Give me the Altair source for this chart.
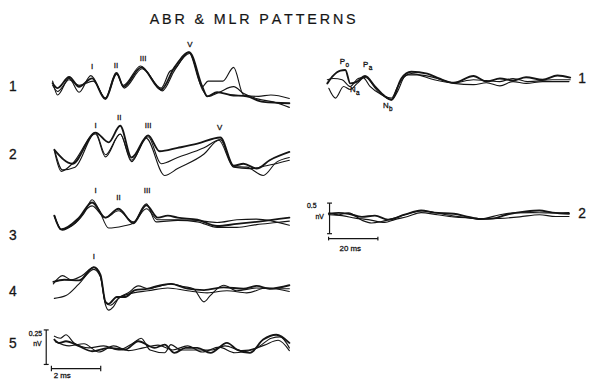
import altair as alt
import pandas as pd

TITLE = "A\u2009B\u2009R\u2009 \u2009&\u2009 \u2009M\u2009L\u2009R\u2009 \u2009P\u2009A\u2009T\u2009T\u2009E\u2009R\u2009N\u2009S"

# ---------------- ABR traces: time (ms) and amplitude (uV) ----------------
abr1_a_t = [0.05, 0.25, 0.72, 1.12, 1.65, 2.19, 2.65, 2.92, 3.65, 4.45, 4.99, 5.59, 6.12, 6.32, 6.72, 7.25, 7.92, 8.59, 9.65]
abr1_a_v = [0.045, 0.01, 0.09, 0.02, 0.08, -0.07, 0.12, 0.02, 0.16, 0.0, 0.16, 0.27, 0.02, -0.05, -0.02, -0.04, -0.05, -0.09, -0.10]
abr1_b_t = [0.05, 0.25, 0.72, 1.12, 1.6, 2.19, 2.62, 2.92, 3.62, 4.45, 4.8, 5.0, 5.57, 6.12, 6.35, 6.95, 7.39, 7.79, 8.4, 8.9, 9.65]
abr1_b_v = [0.06, -0.04, 0.08, -0.02, 0.10, -0.06, 0.12, 0.03, 0.17, 0.01, 0.13, 0.15, 0.27, 0.02, 0.06, 0.06, 0.16, -0.04, -0.05, -0.04, -0.065]
abr1_c_t = [0.05, 0.25, 0.72, 1.12, 1.7, 2.19, 2.65, 2.95, 3.68, 4.5, 5.0, 5.6, 6.12, 6.35, 6.8, 7.39, 7.8, 8.4, 9.0, 9.65]
abr1_c_v = [0.03, -0.015, 0.07, 0.03, 0.06, -0.065, 0.11, 0.01, 0.15, -0.01, 0.14, 0.26, 0.0, -0.05, -0.02, 0.02, -0.03, -0.07, -0.09, -0.13]

abr2_a_t = [0.12, 0.85, 1.79, 2.32, 2.79, 3.25, 3.92, 4.39, 5.12, 5.92, 6.85, 7.39, 7.79, 8.32, 8.85, 9.65]
abr2_a_v = [0.005, -0.095, 0.13, 0.06, 0.18, -0.05, 0.11, -0.005, 0.02, 0.05, 0.095, -0.11, -0.095, -0.13, -0.07, -0.01]
abr2_b_t = [0.12, 0.45, 0.96, 1.79, 2.19, 2.79, 3.25, 3.92, 4.45, 5.12, 6.19, 6.85, 7.39, 7.92, 8.59, 9.12, 9.65]
abr2_b_v = [0.01, -0.14, -0.12, 0.13, -0.03, 0.12, -0.07, 0.10, -0.095, -0.05, 0.02, 0.08, -0.115, -0.12, -0.18, -0.085, -0.05]
abr2_c_t = [0.12, 0.4, 0.85, 1.79, 2.19, 2.79, 3.25, 3.84, 4.59, 5.12, 6.19, 6.79, 7.39, 8.04, 8.72, 9.65]
abr2_c_v = [0.0, -0.15, -0.095, 0.12, -0.045, 0.12, -0.08, 0.09, -0.18, -0.13, -0.025, 0.075, -0.12, -0.13, -0.11, -0.07]

abr3_a_t = [0.12, 0.39, 1.12, 1.65, 2.19, 2.72, 3.32, 3.85, 4.32, 4.72, 5.12, 5.92, 6.72, 7.52, 8.32, 9.65]
abr3_a_v = [0.015, -0.085, 0.0, 0.11, 0.0, 0.065, -0.04, 0.09, 0.0, 0.015, 0.0, -0.015, -0.06, -0.045, -0.03, 0.0]
abr3_b_t = [0.12, 0.4, 1.32, 1.65, 1.92, 2.32, 2.92, 3.32, 3.85, 4.24, 5.12, 5.92, 6.72, 7.52, 8.32, 9.12, 9.65]
abr3_b_v = [0.015, -0.085, 0.03, 0.13, 0.06, -0.075, -0.06, -0.04, 0.10, -0.03, -0.02, -0.03, -0.07, -0.07, -0.05, -0.035, -0.025]
abr3_c_t = [0.12, 0.44, 0.92, 1.65, 2.19, 2.72, 3.32, 3.85, 4.32, 5.12, 5.92, 6.72, 7.52, 8.32, 9.65]
abr3_c_v = [0.01, -0.09, -0.045, 0.085, 0.0, 0.05, -0.03, 0.065, -0.015, -0.015, -0.02, -0.035, -0.015, -0.01, -0.055]

abr4_a_t = [0.08, 0.52, 1.12, 1.72, 1.99, 2.19, 2.32, 2.65, 2.99, 3.39, 3.92, 4.32, 4.85, 5.52, 6.19, 6.99, 7.79, 8.32, 8.85, 9.65]
abr4_a_v = [0.05, 0.065, 0.06, 0.155, 0.10, -0.095, -0.11, -0.06, -0.06, -0.01, 0.0, 0.02, 0.035, 0.0, -0.01, 0.01, 0.0, 0.02, 0.0, 0.025]
abr4_b_t = [0.08, 0.45, 0.8, 1.25, 1.72, 1.99, 2.19, 2.32, 2.52, 2.72, 3.12, 3.52, 3.92, 4.32, 4.85, 5.36, 5.76, 6.19, 6.44, 6.99, 7.52, 8.32, 9.12, 9.65]
abr4_b_v = [0.035, 0.095, 0.065, 0.095, 0.155, 0.09, -0.115, -0.155, -0.13, -0.07, -0.03, 0.02, 0.0, 0.015, 0.035, 0.015, 0.0, -0.095, -0.05, 0.025, -0.015, 0.005, 0.0, 0.0]
abr4_c_t = [0.12, 0.59, 1.12, 1.72, 1.99, 2.19, 2.4, 2.72, 3.32, 3.92, 4.72, 5.52, 6.32, 7.12, 7.92, 8.72, 9.65]
abr4_c_v = [-0.07, -0.05, 0.035, 0.14, 0.085, -0.1, -0.12, -0.07, -0.03, -0.015, 0.005, -0.015, -0.03, -0.015, -0.03, 0.005, -0.02]

abr5_a_t = [0.12, 0.32, 0.59, 1.12, 1.65, 2.32, 2.99, 3.52, 4.19, 4.59, 4.99, 5.44, 5.92, 6.45, 7.12, 7.52, 8.05, 8.59, 9.12, 9.65]
abr5_a_v = [0.06, 0.035, 0.048, 0.012, -0.024, 0.0, -0.012, 0.048, 0.0, 0.024, -0.036, 0.0, 0.0, -0.036, 0.036, -0.012, -0.036, 0.06, 0.095, 0.036]
abr5_b_t = [0.12, 0.36, 0.59, 0.92, 1.52, 2.12, 2.72, 3.32, 3.64, 4.0, 4.59, 4.85, 5.24, 5.92, 6.52, 7.04, 7.72, 8.32, 8.92, 9.28, 9.65]
abr5_b_v = [0.085, 0.07, 0.095, 0.035, 0.0, 0.015, -0.015, 0.035, 0.07, -0.015, -0.035, 0.024, -0.015, -0.015, -0.015, 0.015, -0.02, 0.0, 0.07, 0.08, 0.0]
abr5_c_t = [0.16, 0.72, 1.32, 1.92, 2.52, 3.12, 3.72, 4.32, 4.92, 5.52, 6.12, 6.8, 7.44, 8.12, 8.64, 9.2, 9.65]
abr5_c_v = [0.045, 0.015, 0.03, -0.03, 0.015, -0.02, 0.0, 0.02, -0.015, 0.015, -0.03, 0.005, -0.035, -0.015, 0.02, 0.055, -0.02]

# ---------------- MLR traces: time (ms) and amplitude (uV) ----------------
mlr1_a_t = [0.7, 2.7, 6, 8, 10, 12.8, 16, 20, 24, 26.7, 30.7, 34.7, 41.2, 46, 52, 60, 65.2, 70.7, 76, 81.3, 88, 94, 99.2]
mlr1_a_v = [-0.03, 0.08, 0.18, 0.19, -0.03, 0.0, 0.09, -0.08, -0.24, -0.30, 0.05, 0.16, 0.13, 0.05, -0.02, 0.09, 0.0, 0.05, 0.02, 0.07, 0.03, 0.10, 0.065]
mlr1_b_t = [1.3, 4, 7.3, 10, 12.8, 16, 21.2, 26.7, 29.2, 32, 34.7, 44, 52, 60, 65.2, 70.7, 76, 81.3, 88, 98.7]
mlr1_b_v = [-0.11, -0.27, -0.08, -0.13, -0.03, 0.07, -0.16, -0.30, -0.16, 0.08, 0.13, 0.03, -0.03, -0.05, -0.02, -0.07, 0.0, -0.03, 0.0, 0.0]
mlr1_c_t = [0.7, 3.2, 6.7, 10, 13.2, 15.2, 18, 22.7, 26.7, 29.2, 33.2, 38, 44, 52, 60, 65.2, 70.7, 76, 82, 92, 99.2]
mlr1_c_v = [0.03, 0.05, 0.03, -0.08, 0.05, 0.065, -0.08, -0.215, -0.27, -0.08, 0.11, 0.11, 0.065, -0.02, 0.03, 0.015, 0.0, 0.05, 0.0, 0.03, 0.03]

mlr2_a_t = [1.3, 5.3, 9.3, 14.7, 20, 25.3, 32, 38.7, 44, 52, 57.3, 62.7, 68, 73.3, 81.3, 86.7, 92, 98.7]
mlr2_a_v = [0.015, 0.03, 0.015, -0.035, -0.015, -0.08, 0.0, 0.07, 0.035, 0.015, -0.03, -0.07, -0.06, 0.0, 0.055, 0.07, 0.035, 0.015]
mlr2_b_t = [1.3, 6.7, 12, 17.3, 24, 28, 33.3, 38.7, 45.3, 52, 60, 65.3, 70.7, 78.7, 86.7, 93.3, 98.7]
mlr2_b_v = [0.0, -0.015, -0.055, -0.08, -0.125, -0.08, -0.03, 0.035, 0.0, -0.035, -0.055, -0.07, -0.06, -0.035, 0.0, -0.03, -0.03]
mlr2_c_t = [1.3, 5.3, 9.3, 14.7, 18.7, 22.7, 28, 33.3, 39.3, 46.7, 54.7, 62.7, 70.7, 76, 84, 89.3, 98.7]
mlr2_c_v = [0.03, 0.0, 0.03, -0.09, -0.135, -0.11, -0.055, 0.015, 0.065, 0.015, -0.035, -0.07, 0.0, 0.03, 0.035, 0.03, 0.035]

# peak labels: (panel, label, time ms, amplitude uV)
abr_peaks = [
    (1, "I", 1.65, 0.165), (1, "II", 2.62, 0.17), (1, "III", 3.72, 0.22), (1, "V", 5.62, 0.325),
    (2, "I", 1.79, 0.18), (2, "II", 2.75, 0.235), (2, "III", 3.92, 0.175), (2, "V", 6.82, 0.165),
    (3, "I", 1.79, 0.19), (3, "II", 2.72, 0.145), (3, "III", 3.88, 0.19),
    (4, "I", 1.72, 0.23),
]
# MLR component labels: (letter, subscript, time ms, amplitude uV)
mlr_peaks = [("P", "o", 6.8, 0.315), ("P", "a", 16.2, 0.275), ("N", "a", 11.0, -0.145), ("N", "b", 24.4, -0.40)]

abr_rows = [1, 2, 3, 4, 5]
mlr_rows = [1, 2]

# calibration
ABR_CAL_UV, ABR_CAL_MS = 0.25, 2
MLR_CAL_UV, MLR_CAL_MS = 0.5, 20

# ---------------- layout (page pixels) ----------------
ABR_X0, ABR_PX_MS, ABR_PX_UV = 52, 25, 140
ABR_BASE = {1: 88, 2: 150, 3: 218, 4: 290, 5: 350}
ABR_ROW_LABEL_Y = {1: 86, 2: 155, 3: 237, 4: 293, 5: 346}
MLR_X0, MLR_PX_MS, MLR_PX_UV = 330, 2.5, 62
MLR_BASE = {1: 80, 2: 215}
MLR_ROW_LABEL_Y = {1: 77, 2: 214}


def abr_xy(p, t, v):
    return ABR_X0 + ABR_PX_MS * t, ABR_BASE[p] - ABR_PX_UV * v


def mlr_xy(p, t, v):
    return MLR_X0 + MLR_PX_MS * t, MLR_BASE[p] - MLR_PX_UV * v


traces = [
    ("abr", 1, "a", abr1_a_t, abr1_a_v), ("abr", 1, "b", abr1_b_t, abr1_b_v), ("abr", 1, "c", abr1_c_t, abr1_c_v),
    ("abr", 2, "a", abr2_a_t, abr2_a_v), ("abr", 2, "b", abr2_b_t, abr2_b_v), ("abr", 2, "c", abr2_c_t, abr2_c_v),
    ("abr", 3, "a", abr3_a_t, abr3_a_v), ("abr", 3, "b", abr3_b_t, abr3_b_v), ("abr", 3, "c", abr3_c_t, abr3_c_v),
    ("abr", 4, "a", abr4_a_t, abr4_a_v), ("abr", 4, "b", abr4_b_t, abr4_b_v), ("abr", 4, "c", abr4_c_t, abr4_c_v),
    ("abr", 5, "a", abr5_a_t, abr5_a_v), ("abr", 5, "b", abr5_b_t, abr5_b_v), ("abr", 5, "c", abr5_c_t, abr5_c_v),
    ("mlr", 1, "a", mlr1_a_t, mlr1_a_v), ("mlr", 1, "b", mlr1_b_t, mlr1_b_v), ("mlr", 1, "c", mlr1_c_t, mlr1_c_v),
    ("mlr", 2, "a", mlr2_a_t, mlr2_a_v), ("mlr", 2, "b", mlr2_b_t, mlr2_b_v), ("mlr", 2, "c", mlr2_c_t, mlr2_c_v),
]

rows = []
for kind, p, name, ts, vs in traces:
    f = abr_xy if kind == "abr" else mlr_xy
    for i, (t, v) in enumerate(zip(ts, vs)):
        x, y = f(p, t, v)
        rows.append({"trace": f"{kind}{p}{name}", "kind": kind, "ord": i, "x": x, "y": y,
                     "w": 1.9 if name == "a" else 1.15})
lines_df = pd.DataFrame(rows)

# scale-bar segments
segs = []
def seg(a, b):
    segs.append({"x": a[0], "y": a[1], "x2": b[0], "y2": b[1]})

vx = -0.21
seg(abr_xy(5, vx, 0.13), abr_xy(5, vx, 0.13 - ABR_CAL_UV))
seg(abr_xy(5, vx - 0.1, 0.13), abr_xy(5, vx + 0.1, 0.13))
seg(abr_xy(5, vx - 0.1, 0.13 - ABR_CAL_UV), abr_xy(5, vx + 0.1, 0.13 - ABR_CAL_UV))
seg(abr_xy(5, 0, -0.15), abr_xy(5, ABR_CAL_MS, -0.15))
seg(abr_xy(5, 0, -0.13), abr_xy(5, 0, -0.17))
seg(abr_xy(5, ABR_CAL_MS, -0.13), abr_xy(5, ABR_CAL_MS, -0.17))

mx = 1.6
seg(mlr_xy(2, mx, 0.19), mlr_xy(2, mx, 0.19 - MLR_CAL_UV))
seg(mlr_xy(2, mx - 1.0, 0.19), mlr_xy(2, mx + 1.0, 0.19))
seg(mlr_xy(2, mx - 1.0, 0.19 - MLR_CAL_UV), mlr_xy(2, mx + 1.0, 0.19 - MLR_CAL_UV))
seg(mlr_xy(2, 1.2, -0.39), mlr_xy(2, 1.2 + MLR_CAL_MS, -0.39))
seg(mlr_xy(2, 1.2, -0.36), mlr_xy(2, 1.2, -0.42))
seg(mlr_xy(2, 1.2 + MLR_CAL_MS, -0.36), mlr_xy(2, 1.2 + MLR_CAL_MS, -0.42))
segs_df = pd.DataFrame(segs)

# text annotations
texts = []
for p in abr_rows:
    texts.append({"text": str(p), "x": 13, "y": ABR_ROW_LABEL_Y[p], "size": 14})
for p in mlr_rows:
    texts.append({"text": str(p), "x": 590, "y": MLR_ROW_LABEL_Y[p], "size": 14})
for p, lab, t, v in abr_peaks:
    x, y = abr_xy(p, t, v)
    texts.append({"text": lab, "x": x, "y": y, "size": 8})
for letter, sub, t, v in mlr_peaks:
    x, y = mlr_xy(1, t, v)
    texts.append({"text": letter, "x": x, "y": y, "size": 8})
    texts.append({"text": sub, "x": x + 5, "y": y + 3, "size": 6.5})
cx, cy = abr_xy(5, vx, 0.13)
texts.append({"text": "0.25", "x": cx - 11, "y": cy + 4, "size": 7})
texts.append({"text": "nV", "x": cx - 9, "y": cy + 14, "size": 7})
bx, by = abr_xy(5, ABR_CAL_MS / 2, -0.15)
texts.append({"text": f"{ABR_CAL_MS} ms", "x": bx - 14, "y": by + 8, "size": 8})
mx_, my_ = mlr_xy(2, mx, 0.19)
texts.append({"text": "0.5", "x": mx_ - 18, "y": my_ + 3, "size": 7})
texts.append({"text": "nV", "x": mx_ - 10, "y": my_ + 14, "size": 7})
hx, hy = mlr_xy(2, 1.2 + MLR_CAL_MS / 2, -0.39)
texts.append({"text": f"{MLR_CAL_MS} ms", "x": hx - 3, "y": hy + 11, "size": 8})
texts_df = pd.DataFrame(texts)

title_df = pd.DataFrame([{"text": TITLE, "x": 256, "y": 18}])

X = alt.X("x:Q", scale=alt.Scale(domain=[8, 595], nice=False, zero=False), axis=None)
Y = alt.Y("y:Q", scale=alt.Scale(domain=[8, 381], nice=False, zero=False, reverse=True), axis=None)

ink = "#151515"

lines = alt.Chart(lines_df).mark_line(interpolate="monotone", strokeJoin="round", strokeCap="round").encode(
    x=X, y=Y, detail="trace:N", order="ord:Q",
    strokeWidth=alt.StrokeWidth("w:Q", scale=None), color=alt.value(ink)
)

bars = alt.Chart(segs_df).mark_rule(strokeWidth=1.2).encode(
    x=X, y=Y, x2="x2:Q", y2="y2:Q", color=alt.value(ink)
)

labels = alt.Chart(texts_df).mark_text(
    font="Liberation Sans", align="center", baseline="middle",
    fill=ink, stroke=ink, strokeWidth=0.3
).encode(
    x=X, y=Y, text="text:N", size=alt.Size("size:Q", scale=None)
)

title = alt.Chart(title_df).mark_text(
    font="Liberation Sans", fontSize=14.5, align="center", baseline="middle",
    fill=ink, stroke=ink, strokeWidth=0.2
).encode(
    x=X, y=Y, text="text:N"
)

chart = alt.layer(lines, bars, labels, title).properties(
    width=587, height=373, padding=0, autosize=alt.AutoSizeParams(type="none"),
    background="white"
).configure_view(stroke=None)

chart.save("out.html", embed_options={"renderer": "svg", "actions": False})
